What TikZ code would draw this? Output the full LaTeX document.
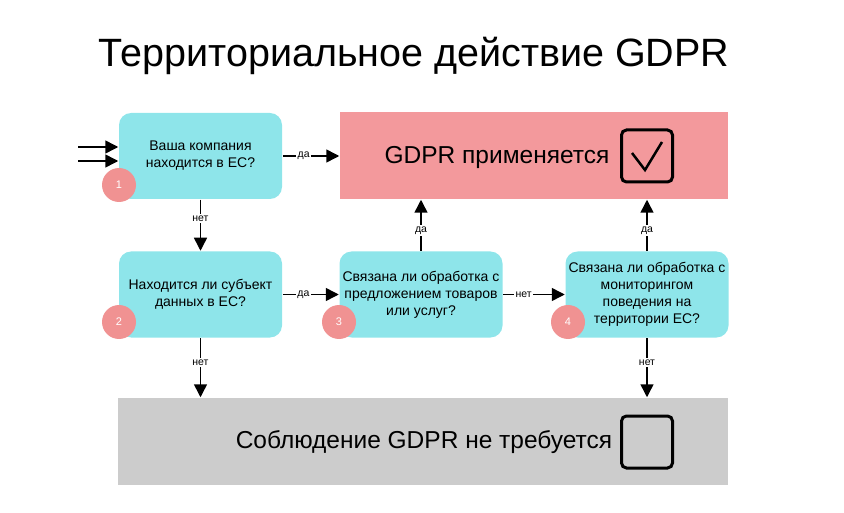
\documentclass[tikz,border=0pt]{standalone}
\usepackage{fontspec}
\setmainfont{Liberation Sans}
\usetikzlibrary{arrows.meta}
\definecolor{qcyan}{RGB}{142,229,234}
\definecolor{yespink}{RGB}{243,153,156}
\definecolor{numpink}{RGB}{240,146,146}
\definecolor{nogray}{RGB}{204,204,204}
\begin{document}
\begin{tikzpicture}[x=1pt,y=-1pt,line width=1.5pt,
    question/.style={rectangle,rounded corners=12pt,fill=qcyan,minimum width=163pt,
      minimum height=86pt,align=center,inner sep=0pt,font=\fontsize{14}{17}\selectfont},
    result/.style={rectangle,minimum height=87pt,inner sep=0pt},
    number/.style={circle,fill=numpink,minimum size=34pt,inner sep=0pt,text=white,
      font=\fontsize{11}{13}\selectfont},
    checkbox/.style={rectangle,draw,line width=3pt,rounded corners=5pt,minimum width=51pt,
      minimum height=52pt,inner sep=0pt},
    lbl/.style={fill=white,inner sep=1.5pt,font=\fontsize{10.5}{12}\selectfont},
    arr/.style={-{Triangle[length=13pt,width=13pt]}}]
  \useasboundingbox (0,0) rectangle (844,513);
    \node (title) at (414,56) {\fontsize{39.5}{46}\selectfont Территориальное действие GDPR};
    % results
    \node[result,fill=yespink,minimum width=388pt] (yes) at (534,155.5) {};
    \node[result,fill=nogray,minimum width=610pt] (no) at (423,441.5) {};
    \node[font=\fontsize{24.5}{28}\selectfont] (yestext) at (497,157) {GDPR применяется};
    \node[font=\fontsize{24.5}{28}\selectfont] (notext) at (424,442) {Соблюдение GDPR не требуется};
    \node[checkbox] (tick) at (647,156) {};
    \draw[line width=2.5pt] (632,153) -- (645,170) -- (662,142);
    \node[checkbox] (empty) at (647,442) {};
    % questions
    \node[question] (q1) at (200.5,156) {Ваша компания\\находится в ЕС?};
    \node[question] (q2) at (200.5,294.5) {Находится ли субъект\\данных в ЕС?};
    \node[question] (q3) at (421,294.5) {Связана ли обработка с\\предложением товаров\\или услуг?};
    \node[question] (q4) at (647,294.5) {Связана ли обработка с\\мониторингом\\поведения на\\территории ЕС?};
    \node[number] (n1) at (119,185) {1};
    \node[number] (n2) at (119,322) {2};
    \node[number] (n3) at (339,322) {3};
    \node[number] (n4) at (568,322) {4};
    % connectors
    \coordinate (in1) at (78,147);
    \coordinate (in2) at (78,161);
    \draw[arr] (in1) -- (in1 -| q1.west);
    \draw[arr] (in2) -- (in2 -| q1.west);
    \draw[arr] (q1.east) -- node[lbl,pos=.37] {да} (q1.east -| yes.west);
    \draw[arr] (q1.south) -- node[lbl,pos=.37] {нет} (q2.north);
    \draw[arr] (q2.east) -- node[lbl,pos=.37] {да} (q3.west);
    \draw[arr] (q3.east) -- node[lbl,pos=.33] {нет} (q4.west);
    \draw[arr] (q3.north) -- node[lbl,pos=.4] {да} (q3.north |- yes.south);
    \draw[arr] (q4.north) -- node[lbl,pos=.4] {да} (q4.north |- yes.south);
    \draw[arr] (q2.south) -- node[lbl,pos=.41] {нет} (q2.south |- no.north);
    \draw[arr] (q4.south) -- node[lbl,pos=.41] {нет} (q4.south |- no.north);
  \end{tikzpicture}
\end{document}
